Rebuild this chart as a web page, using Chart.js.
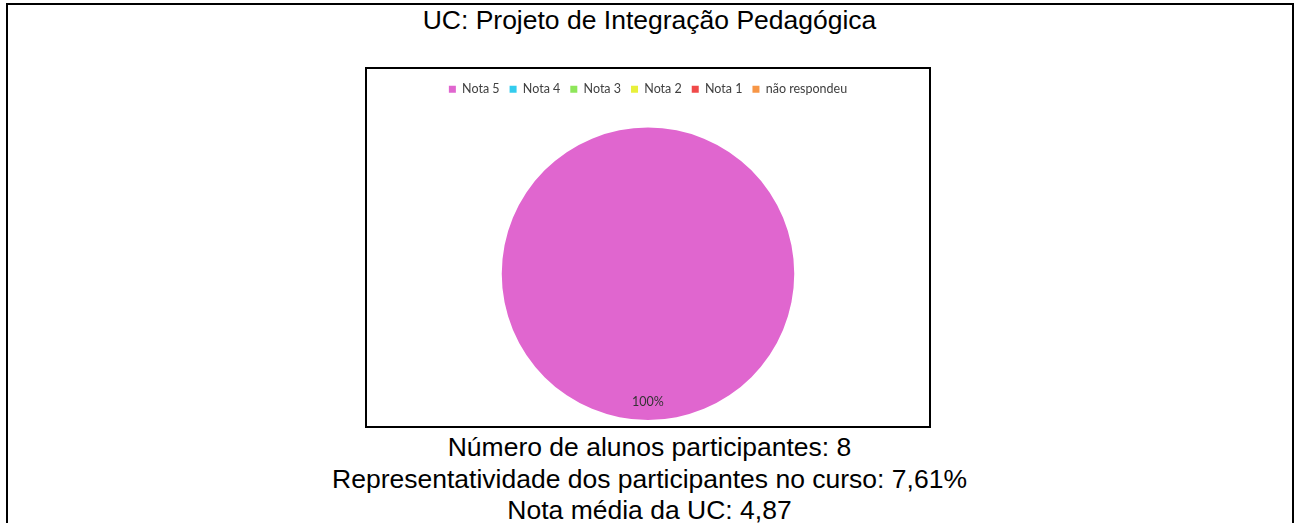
<!DOCTYPE html>
<html>
<head>
<meta charset="utf-8">
<script src="https://cdn.jsdelivr.net/npm/chart.js@4"></script>
<style>
  body { margin: 0; background: #fff; font-family: "Liberation Sans", Arial, sans-serif; }
  #outer { position: absolute; left: 6px; top: 3px; width: 1284px; height: 600px; border: 2px solid #000; }
  .txt { position: absolute; left: 0; width: 1299px; text-align: center; font-size: 26.5px; color: #000; line-height: 30px; }
  #box { position: absolute; left: 365px; top: 67px; width: 562px; height: 357px; border: 2px solid #000; }
</style>
</head>
<body>
<div id="outer"></div>
<div class="txt" style="top:5px">UC: Projeto de Integração Pedagógica</div>
<div id="box"><canvas id="pie" width="562" height="357"></canvas></div>
<div class="txt" style="top:432px">Número de alunos participantes: 8</div>
<div class="txt" style="top:464px">Representatividade dos participantes no curso: 7,61%</div>
<div class="txt" style="top:495px">Nota média da UC: 4,87</div>
<script>
const categories = ["Nota 5", "Nota 4", "Nota 3", "Nota 2", "Nota 1", "não respondeu"];
const values = [100, 0, 0, 0, 0, 0];
const colors = ["#E066CF", "#33CCEE", "#8EE65A", "#E8F03A", "#F04A4A", "#F79646"];

// legend sits higher than the pie: add space under it
const legendGap = {
  id: "legendGap",
  beforeInit(chart) {
    const fit = chart.legend.fit;
    chart.legend.fit = function () {
      fit.bind(chart.legend)();
      this.height += 22;
    };
  }
};

const pctLabel = {
  id: "pctLabel",
  afterDatasetsDraw(chart) {
    const ctx = chart.ctx;
    const total = values.reduce((a, b) => a + b, 0);
    chart.getDatasetMeta(0).data.forEach((arc, i) => {
      if (!values[i]) return;
      const mid = (arc.startAngle + arc.endAngle) / 2;
      const r = arc.outerRadius * 0.88;
      ctx.save();
      ctx.font = "12.5px Lato, sans-serif";
      ctx.fillStyle = "#333";
      ctx.textAlign = "center";
      ctx.textBaseline = "middle";
      ctx.fillText(Math.round(values[i] / total * 100) + "%", arc.x + Math.cos(mid) * r, arc.y + Math.sin(mid) * r);
      ctx.restore();
    });
  }
};

new Chart(document.getElementById("pie"), {
  type: "pie",
  data: {
    labels: categories,
    datasets: [{ data: values, backgroundColor: colors, borderWidth: 0 }]
  },
  options: {
    responsive: false,
    animation: false,
    layout: { padding: { top: 4, bottom: 6 } },
    plugins: {
      tooltip: { enabled: false },
      legend: {
        position: "top",
        labels: {
          boxWidth: 7, boxHeight: 7, padding: 10,
          color: "#404040",
          font: { size: 12.5, family: "Lato, sans-serif" }
        }
      }
    }
  },
  plugins: [legendGap, pctLabel]
});
</script>
</body>
</html>
